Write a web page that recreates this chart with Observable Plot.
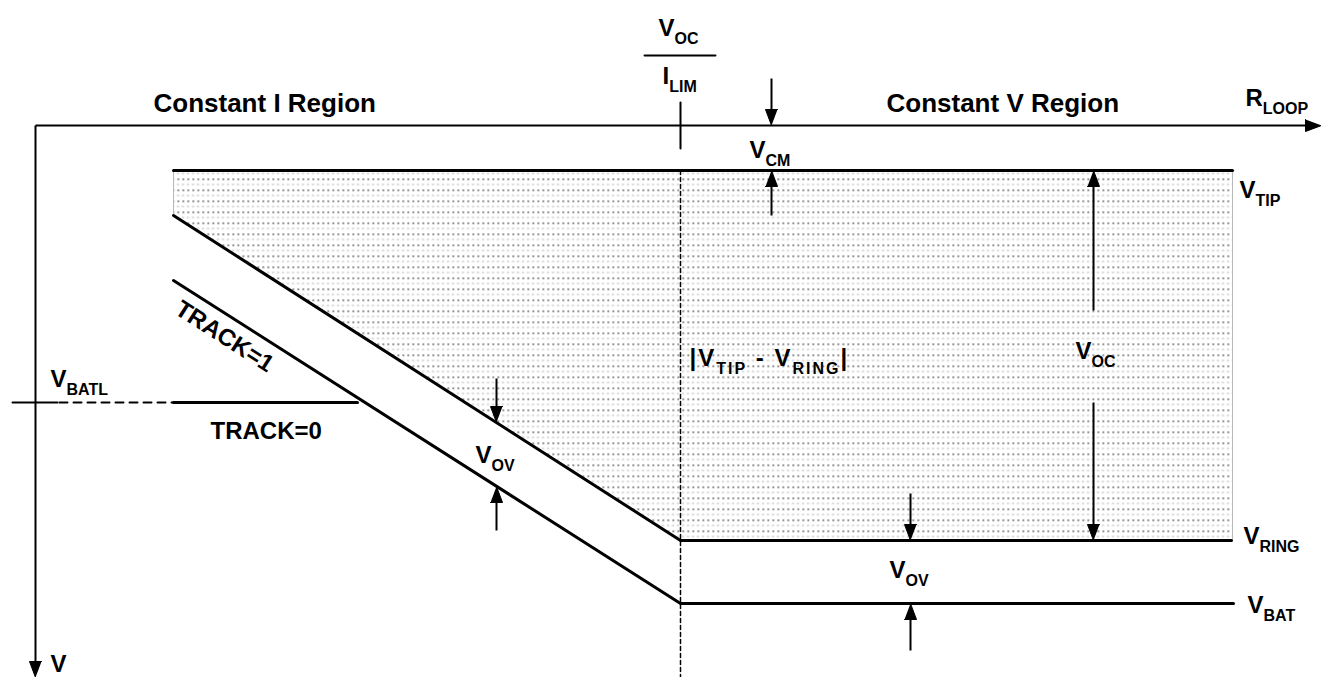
<!DOCTYPE html>
<html><head><meta charset="utf-8">
<script src="https://cdn.jsdelivr.net/npm/d3@7"></script>
<script src="https://cdn.jsdelivr.net/npm/@observablehq/plot@0.6"></script>
<style>html,body{margin:0;padding:0;background:#fff;overflow:hidden}</style>
</head><body><div id="chart"></div>
<script>
// Diagram units: r = loop resistance (to the right), v = voltage (downward), origin at the axes' corner.
const rAxis = [{r: 0, v: 0}, {r: 1286, v: 0}];
const vAxis = [{r: 0, v: 0}, {r: 0, v: 552}];
const vTipLine = [{r: 138, v: 45}, {r: 1197, v: 45}];
const vRingLine = [{r: 138, v: 90}, {r: 645, v: 415}, {r: 1196, v: 415}];
const vBatLine = [{r: 138, v: 155}, {r: 645, v: 478}, {r: 1198, v: 478}];
const vBatlSolidLeft = [{r: -23, v: 277}, {r: 22, v: 277}];
const vBatlDashed = [{r: 24, v: 277}, {r: 138, v: 277}];
const vBatlTrack0 = [{r: 138, v: 277}, {r: 322, v: 277}];
const limDivider = [{r: 645, v: 45}, {r: 645, v: 552}];
const limTick = [{r: 645, v: -23}, {r: 645, v: 23}];
const fractionBar = [{r: 609, v: -70}, {r: 680, v: -70}];
const shadedRegion = [{r: 138, v: 45}, {r: 1197, v: 45}, {r: 1197, v: 415}, {r: 645, v: 415}, {r: 138, v: 90}, {r: 138, v: 45}];
// arrows: tail (r1,v1) -> tip (r2,v2)
const axisArrows = [
  {r1: 0, v1: 0, r2: 1286, v2: 0},
  {r1: 0, v1: 0, r2: 0, v2: 552}
];
const dimArrows = [
  {r1: 736, v1: -47, r2: 736, v2: 0},
  {r1: 736, v1: 90, r2: 736, v2: 45},
  {r1: 1058, v1: 185, r2: 1058, v2: 45},
  {r1: 1058, v1: 277, r2: 1058, v2: 415},
  {r1: 461, v1: 253, r2: 461, v2: 297},
  {r1: 461, v1: 405, r2: 461, v2: 361},
  {r1: 875, v1: 368, r2: 875, v2: 415},
  {r1: 875, v1: 525, r2: 875, v2: 478}
];
const titleText = ["Constant I Region", "Constant V Region"];
const titleR = [118, 851];
const titleV = [-14, -14];
const labelText = ["R{LOOP}", "V{OC}", "I{LIM}", "V{CM}", "V{TIP}",
  "|V{TIP} - V{RING}|", "V{OC}", "V{BATL}", "TRACK=0", "V{OV}", "V{OV}", "V{RING}", "V{BAT}", "V"];
const labelR = [1210, 623, 627, 714, 1204, 654, 1040, 15, 175, 440, 854, 1208, 1212, 15];
const labelV = [-20, -90, -42, 32, 72, 240, 233, 261, 313, 337, 452, 418, 487, 546];
const slopedLabel = [{text: "TRACK=1", r: 189, v: 211}];

const titles = titleText.map((t, i) => ({text: t, r: titleR[i], v: titleV[i]}));
const labels = labelText.map((t, i) => ({text: t, r: labelR[i], v: labelV[i]}));
const allArrows = [...axisArrows, ...dimArrows];
const HEAD_L = 16, HEAD_W = 6;
const heads = allArrows.flatMap((a, i) => {
  const dx = a.r2 - a.r1, dy = a.v2 - a.v1, len = Math.hypot(dx, dy);
  const ux = dx / len, uy = dy / len, nx = -uy, ny = ux;
  const br = a.r2 - HEAD_L * ux, bv = a.v2 - HEAD_L * uy;
  return [
    {id: i, r: a.r2, v: a.v2},
    {id: i, r: br + HEAD_W * nx, v: bv + HEAD_W * ny},
    {id: i, r: br - HEAD_W * nx, v: bv - HEAD_W * ny}
  ];
});
const shafts = allArrows.map(a => {
  const dx = a.r2 - a.r1, dy = a.v2 - a.v1, len = Math.hypot(dx, dy);
  return {...a, r3: a.r2 - (HEAD_L - 2) * dx / len, v3: a.v2 - (HEAD_L - 2) * dy / len};
});
const slope = (vRingLine[1].v - vRingLine[0].v) / (vRingLine[1].r - vRingLine[0].r);
const angle = Math.atan(slope) * 180 / Math.PI;

const FONT = "Liberation Sans, Arial, Helvetica, sans-serif";
const plot = Plot.plot({
  width: 1321, height: 677, margin: 0,
  x: {domain: [-35, 1286], range: [0, 1321], axis: null},
  y: {domain: [-125, 552], range: [0, 677], axis: null},
  style: {fontFamily: FONT, background: "white", overflow: "visible"},
  marks: [
    Plot.line(shadedRegion, {x: "r", y: "v", fill: "url(#stipple)", stroke: "#b8b8b8", strokeWidth: 1}),
    Plot.line(limDivider, {x: "r", y: "v", stroke: "black", strokeWidth: 1.5, strokeDasharray: "4,3"}),
    Plot.line(vTipLine, {x: "r", y: "v", stroke: "black", strokeWidth: 3}),
    Plot.line(vRingLine, {x: "r", y: "v", stroke: "black", strokeWidth: 3}),
    Plot.line(vBatLine, {x: "r", y: "v", stroke: "black", strokeWidth: 3}),
    Plot.line(vBatlSolidLeft, {x: "r", y: "v", stroke: "black", strokeWidth: 2}),
    Plot.line(vBatlDashed, {x: "r", y: "v", stroke: "black", strokeWidth: 2, strokeDasharray: "8,6"}),
    Plot.line(vBatlTrack0, {x: "r", y: "v", stroke: "black", strokeWidth: 3}),
    Plot.line(limTick, {x: "r", y: "v", stroke: "black", strokeWidth: 2}),
    Plot.line(fractionBar, {x: "r", y: "v", stroke: "black", strokeWidth: 2}),
    Plot.link(shafts, {x1: "r1", y1: "v1", x2: "r3", y2: "v3", stroke: "black", strokeWidth: 2}),
    Plot.line(heads, {x: "r", y: "v", z: "id", fill: "black", stroke: "black", strokeWidth: 1}),
    Plot.text(titles, {x: "r", y: "v", text: "text", textAnchor: "start", lineAnchor: "bottom",
      fontSize: 26, fontWeight: "bold", fill: "black", fontFamily: FONT}),
    Plot.text(labels, {x: "r", y: "v", text: "text", textAnchor: "start", lineAnchor: "bottom",
      fontSize: 24, fontWeight: "bold", fill: "black", fontFamily: FONT}),
    Plot.text(slopedLabel, {x: "r", y: "v", text: "text", rotate: angle, textAnchor: "middle", lineAnchor: "middle",
      fontSize: 24, fontWeight: "bold", fill: "black", fontFamily: FONT})
  ]
});

// pattern for the stippled region
const NS = "http://www.w3.org/2000/svg";
const defs = document.createElementNS(NS, "defs");
defs.innerHTML = `<pattern id="stipple" patternUnits="userSpaceOnUse" width="5" height="11">
  <rect width="5" height="11" fill="white"/>
  <rect x="2" y="2" width="1.5" height="1.5" fill="#444"/>
  <rect x="1.5" y="7.5" width="2" height="1" fill="#aaa"/>
</pattern>`;
plot.insertBefore(defs, plot.firstChild);

// subscripts: text in braces
plot.querySelectorAll("text").forEach(t => {
  const s = t.textContent;
  if (!s.includes("{")) return;
  if (s.startsWith("|")) t.setAttribute("letter-spacing", "2");
  const parts = s.split(/(\{[^}]*\})/).filter(p => p.length);
  t.textContent = "";
  let sub = false;
  for (const p of parts) {
    const ts = document.createElementNS(NS, "tspan");
    if (p.startsWith("{")) {
      ts.textContent = p.slice(1, -1);
      ts.setAttribute("dy", "8");
      ts.setAttribute("font-size", "16");
      sub = true;
    } else {
      ts.textContent = p;
      if (sub) ts.setAttribute("dy", "-8");
      sub = false;
    }
    t.appendChild(ts);
  }
});
document.getElementById("chart").appendChild(plot);
</script>
</body></html>
